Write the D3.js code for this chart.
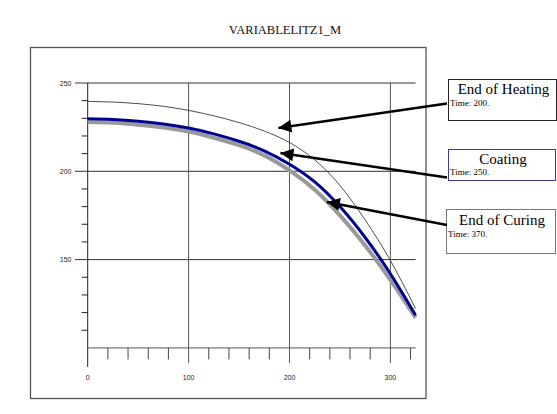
<!DOCTYPE html>
<html>
<head>
<meta charset="utf-8">
<script src="https://cdn.jsdelivr.net/npm/d3@7"></script>
<style>
  body { margin: 0; background: #fff; }
  svg { display: block; }
</style>
</head>
<body>
<svg id="chart"></svg>
<script>
// valores
const xs = [0, 25, 50, 75, 100, 125, 150, 175, 200, 225, 250, 275, 300, 325];
const heating = [239.6, 239.2, 238.3, 236.8, 234.5, 231.4, 227.6, 222.8, 216.3, 206.5, 192.0, 172.5, 149.5, 122.2];
const coating = [229.8, 229.4, 228.4, 226.8, 224.5, 221.2, 217.0, 211.6, 204.0, 194.0, 180.0, 162.5, 142.0, 118.5];
const curing  = [227.9, 227.5, 226.4, 224.8, 222.5, 219.0, 214.8, 209.0, 200.5, 189.5, 175.0, 158.0, 138.5, 117.0];

const xMajor = [0, 100, 200, 300];
const yMajor = [150, 200, 250];

const noteTitles = ["End of Heating", "Coating", "End of Curing"];
const noteTimes = [200, 250, 370];
// punto señalado por cada flecha (en unidades del grafico)
const noteTargets = [[189, 224.5], [191, 210.4], [237, 182.6]];

const width = 557, height = 414;

const svg = d3.select("#chart")
  .attr("width", width)
  .attr("height", height);

const x = d3.scaleLinear().domain([0, 325]).range([87.7, 415.6]);
const y = d3.scaleLinear().domain([100, 250]).range([347.9, 83]);

// titulo
svg.append("text")
  .attr("x", 285).attr("y", 34)
  .attr("text-anchor", "middle")
  .attr("font-family", "Liberation Serif, Times New Roman, serif")
  .attr("font-size", 12.5)
  .attr("fill", "#111")
  .text("VARIABLELITZ1_M");

// marco
svg.append("rect")
  .attr("x", 30.5).attr("y", 47.5)
  .attr("width", 395.5).attr("height", 351)
  .attr("fill", "none")
  .attr("stroke", "#555")
  .attr("stroke-width", 1.3);

const grid = svg.append("g");

// eje inferior
grid.append("line")
  .attr("x1", x(0)).attr("x2", x(325))
  .attr("y1", y(100)).attr("y2", y(100))
  .attr("stroke", "#777").attr("stroke-width", 1.2);

// lineas mayores horizontales
grid.selectAll(".hgrid")
  .data(yMajor)
  .enter().append("line")
  .attr("x1", 75).attr("x2", x(325))
  .attr("y1", d => y(d)).attr("y2", d => y(d))
  .attr("stroke", "#333").attr("stroke-width", 1);

// lineas mayores verticales
grid.selectAll(".vgrid")
  .data(xMajor)
  .enter().append("line")
  .attr("x1", d => x(d)).attr("x2", d => x(d))
  .attr("y1", y(250)).attr("y2", d => d === 0 ? 367 : 363)
  .attr("stroke", d => d === 0 ? "#222" : "#555").attr("stroke-width", 1);

// marcas menores
const yMinor = d3.range(110, 250, 10).filter(d => d % 50 !== 0);
grid.selectAll(".ytick")
  .data(yMinor)
  .enter().append("line")
  .attr("x1", x(0) - 6).attr("x2", x(0))
  .attr("y1", d => y(d)).attr("y2", d => y(d))
  .attr("stroke", "#222");

const xMinor = d3.range(20, 325, 20).filter(d => d % 100 !== 0);
grid.selectAll(".xtick")
  .data(xMinor)
  .enter().append("line")
  .attr("x1", d => x(d)).attr("x2", d => x(d))
  .attr("y1", y(100)).attr("y2", y(100) + 11.5)
  .attr("stroke", "#444");

// etiquetas
grid.selectAll(".ylabel")
  .data(yMajor)
  .enter().append("text")
  .attr("x", 71.5).attr("y", d => y(d) + 2.5)
  .attr("text-anchor", "end")
  .attr("font-family", "Liberation Sans, Arial, sans-serif")
  .attr("font-size", 7)
  .attr("fill", "#222")
  .text(d => d);

grid.selectAll(".xlabel")
  .data(xMajor)
  .enter().append("text")
  .attr("x", d => x(d)).attr("y", 379.5)
  .attr("text-anchor", "middle")
  .attr("font-family", "Liberation Sans, Arial, sans-serif")
  .attr("font-size", 7)
  .attr("fill", "#222")
  .text(d => d);

// curvas
const line = d3.line()
  .x((d, i) => x(xs[i]))
  .y(d => y(d))
  .curve(d3.curveNatural);

svg.append("path").datum(curing)
  .attr("d", line).attr("fill", "none")
  .attr("stroke", "#999").attr("stroke-width", 4);

svg.append("path").datum(coating)
  .attr("d", line).attr("fill", "none")
  .attr("stroke", "#000090").attr("stroke-width", 3);

svg.append("path").datum(heating)
  .attr("d", line).attr("fill", "none")
  .attr("stroke", "#222").attr("stroke-width", 0.8);

// cajas de notas
const boxes = [
  { x: 448.5, y: 79.5, w: 108, h: 41, stroke: "#222", titleY: 94, timeY: 106 },
  { x: 448.5, y: 149.5, w: 107, h: 31, stroke: "#3a3aa0", titleY: 164, timeY: 175 },
  { x: 446.5, y: 209.5, w: 109, h: 44, stroke: "#777", titleY: 225, timeY: 237 }
];

const notes = svg.selectAll(".note")
  .data(noteTitles)
  .enter().append("g");

notes.append("rect")
  .attr("x", (d, i) => boxes[i].x).attr("y", (d, i) => boxes[i].y)
  .attr("width", (d, i) => boxes[i].w).attr("height", (d, i) => boxes[i].h)
  .attr("fill", "#fff")
  .attr("stroke", (d, i) => boxes[i].stroke);

notes.append("text")
  .attr("x", (d, i) => boxes[i].x + boxes[i].w / 2 + 1)
  .attr("y", (d, i) => boxes[i].titleY)
  .attr("text-anchor", "middle")
  .attr("font-family", "Liberation Serif, Times New Roman, serif")
  .attr("font-size", 15)
  .attr("fill", "#000")
  .text(d => d);

notes.append("text")
  .attr("x", (d, i) => boxes[i].x + 1.5)
  .attr("y", (d, i) => boxes[i].timeY)
  .attr("font-family", "Liberation Serif, Times New Roman, serif")
  .attr("font-size", 9)
  .attr("fill", "#000")
  .text((d, i) => "Time: " + noteTimes[i] + ".");

// flechas
const defs = svg.append("defs");
defs.append("marker")
  .attr("id", "head")
  .attr("viewBox", "0 0 10 10")
  .attr("refX", 10).attr("refY", 5)
  .attr("markerUnits", "userSpaceOnUse")
  .attr("markerWidth", 16).attr("markerHeight", 13)
  .attr("orient", "auto")
  .append("path")
  .attr("d", "M0,0L10,5L0,10Z")
  .attr("fill", "#000");

const starts = [[447, 103.5], [447, 177.5], [447, 225]];

svg.selectAll(".arrow")
  .data(noteTargets)
  .enter().append("line")
  .attr("x1", (d, i) => starts[i][0]).attr("y1", (d, i) => starts[i][1])
  .attr("x2", d => x(d[0])).attr("y2", d => y(d[1]))
  .attr("stroke", "#000").attr("stroke-width", 2.6)
  .attr("marker-end", "url(#head)");
</script>
</body>
</html>
